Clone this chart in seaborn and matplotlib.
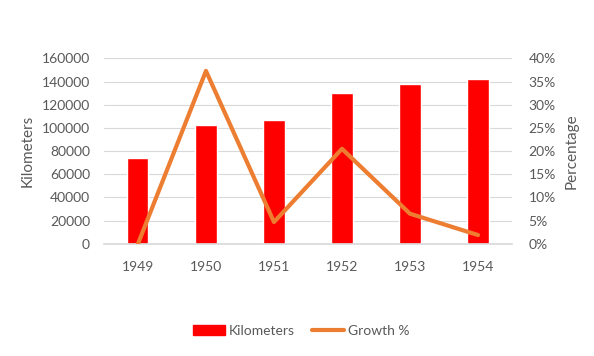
import numpy as np
import pandas as pd
import matplotlib
matplotlib.use("Agg")
import matplotlib.pyplot as plt
import seaborn as sns
from matplotlib.patches import Patch
from matplotlib.lines import Line2D

years = ["1949", "1950", "1951", "1952", "1953", "1954"]
km = [73800, 102500, 106800, 130000, 137800, 141900]
growth = [0.0, 37.3, 4.7, 20.5, 6.5, 1.9]

df = pd.DataFrame({"year": years, "km": km, "growth": growth})

sns.set_theme(style="white")
plt.rcParams["font.family"] = ["Lato", "DejaVu Sans"]
grey = "#595959"

fig = plt.figure(figsize=(5.94, 3.56), dpi=100)
ax = fig.add_axes([0.175, 0.315, 0.687, 0.521])
sns.barplot(data=df, x="year", y="km", color="#FF0000", width=0.31,
            saturation=1, ax=ax, zorder=2)
ax.set_xlim(-0.5, len(years) - 0.5)
ax.set_ylim(0, 160000)
ax.set_yticks(np.arange(0, 160001, 20000))
ax.yaxis.grid(True, color="#D9D9D9", lw=0.8, zorder=0)
ax.set_axisbelow(True)
for s in ["top", "right", "left"]:
    ax.spines[s].set_visible(False)
ax.spines["bottom"].set_color("#D9D9D9")
ax.tick_params(axis="y", colors=grey, labelsize=10, length=0, pad=10)
ax.tick_params(axis="x", colors=grey, labelsize=10, length=0, pad=12)
ax.set_ylabel("Kilometers", color=grey, fontsize=11, labelpad=5)
ax.set_xlabel("Årstitel", color="white", fontsize=11, labelpad=6)

ax2 = ax.twinx()
sns.lineplot(x=np.arange(len(years)), y=df["growth"], color="#ED7D31",
             lw=3, ax=ax2, zorder=3)
ax2.set_ylim(0, 40)
ax2.set_yticks(np.arange(0, 41, 5))
ax2.set_yticklabels([f"{v}%" for v in range(0, 41, 5)])
for s in ["top", "right", "left", "bottom"]:
    ax2.spines[s].set_visible(False)
ax2.tick_params(axis="y", colors=grey, labelsize=10, length=0, pad=12)
ax2.set_ylabel("Percentage", color=grey, fontsize=11, labelpad=6)

fig.text(0.5, 0.94, "Railway Network 1949-1954", ha="center", color="white",
         fontsize=14)

handles = [Patch(color="#FF0000"), Line2D([], [], color="#ED7D31", lw=3)]
fig.legend(handles, ["Kilometers", "Growth %"], loc="center",
           bbox_to_anchor=(0.507, 0.07), ncol=2, frameon=False, fontsize=10,
           labelcolor=grey, handlelength=2.3, handletextpad=0.3,
           columnspacing=1.2)

fig.savefig("out.png", dpi=100, facecolor="white")
